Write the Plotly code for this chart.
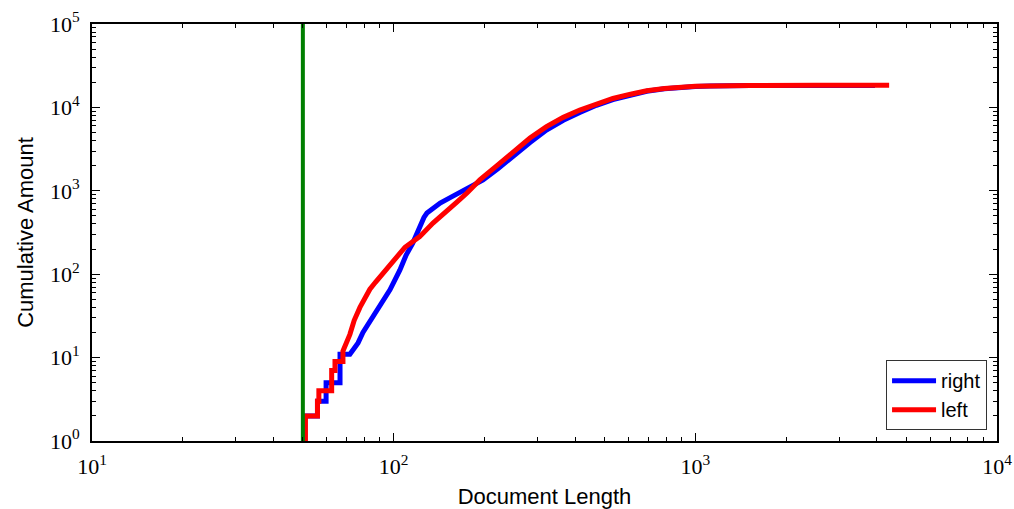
import plotly.graph_objects as go

# Cumulative document counts by length (log-log)
right_len = [50.4, 50.4, 55.9, 55.9, 59.7, 59.7, 66.4, 66.4, 71.6, 76.2, 79.1, 83.4,
             90.1, 97.2, 104.8, 110, 115.7, 120, 123.5, 126, 128.9, 134, 142.6, 155,
             167.8, 183, 197.9, 222, 249, 283, 321, 365, 414, 470, 533, 610, 690,
             790, 890, 1000, 1118, 1300, 1516, 2500, 3940]
right_cum = [1, 2, 2, 3, 3, 5, 5, 11, 11, 15, 20, 27,
             41, 65, 112, 170, 236, 330, 410, 480, 540, 610, 713, 840,
             975, 1150, 1350, 1850, 2630, 3800, 5350, 7000, 8700, 10600, 12400, 14200, 15600,
             16700, 17400, 17800, 18000, 18200, 18300, 18300, 18300]

left_len = [51.0, 51.0, 55.9, 55.9, 56.5, 56.5, 62.3, 62.3, 63.9, 63.9, 67.9, 67.9,
            71.6, 74, 77.3, 80, 83.4, 87, 90.1, 93.5, 97.2, 103, 109, 115, 122, 135,
            150, 162, 175, 193, 220, 249, 283, 321, 365, 414, 470, 533, 610, 690,
            790, 890, 1000, 1118, 1300, 1516, 2500, 4390]
left_cum = [1, 2, 2, 3, 3, 4, 4, 7, 7, 9, 9, 12,
            19, 28, 40, 52, 66, 80, 92, 108, 128, 165, 210, 245, 282, 410,
            560, 730, 940, 1350, 2000, 2940, 4300, 5880, 7600, 9300, 11100, 12800, 14400, 15800,
            16800, 17500, 17900, 18100, 18300, 18350, 18400, 18400]

cutoff_len = 50
y_span = [1, 1e5]

x_decades = [1, 2, 3, 4]
y_decades = [0, 1, 2, 3, 4, 5]

fig = go.Figure()
fig.add_trace(go.Scatter(x=right_len, y=right_cum, mode="lines", name="right",
                         line=dict(color="#0000ff", width=5)))
fig.add_trace(go.Scatter(x=left_len, y=left_cum, mode="lines", name="left",
                         line=dict(color="#ff0000", width=5)))
fig.add_trace(go.Scatter(x=[cutoff_len, cutoff_len], y=y_span, mode="lines",
                         showlegend=False, line=dict(color="#007f00", width=4)))

tick_font = dict(family="Liberation Serif, DejaVu Serif, serif", size=22, color="black")
title_font = dict(family="Liberation Sans, Arial, sans-serif", size=22, color="black")


def minor_vals(decades):
    return [m * 10 ** d for d in decades[:-1] for m in range(2, 10)]


axis_common = dict(
    type="log", showline=True, linewidth=2, linecolor="black", mirror="ticks",
    ticks="inside", ticklen=8, tickwidth=1.2, tickcolor="black",
    showgrid=False, zeroline=False, tickfont=tick_font, automargin=False,
)

fig.update_xaxes(
    **axis_common, range=[1, 4],
    tickvals=[10 ** d for d in x_decades],
    ticktext=[f"10<sup>{d}</sup>" for d in x_decades],
    ticklabelstandoff=5,
    minor=dict(tickvals=minor_vals(x_decades), ticks="inside", ticklen=4,
               tickwidth=1, tickcolor="black", showgrid=False),
    title=dict(text="Document Length", standoff=12, font=title_font),
)
fig.update_yaxes(
    **axis_common, range=[0, 5],
    tickvals=[10 ** d for d in y_decades],
    ticktext=[f"10<sup>{d}</sup>" for d in y_decades],
    ticklabelstandoff=6,
    minor=dict(tickvals=minor_vals(y_decades), ticks="inside", ticklen=4,
               tickwidth=1, tickcolor="black", showgrid=False),
    title=dict(text="Cumulative Amount", standoff=10, font=title_font),
)

fig.update_layout(
    width=1014, height=509,
    margin=dict(l=92, r=17, t=24, b=68),
    plot_bgcolor="white", paper_bgcolor="white",
    legend=dict(x=0.989, y=0.026, xanchor="right", yanchor="bottom",
                bgcolor="white", bordercolor="#333", borderwidth=1,
                font=dict(family="Liberation Sans, Arial, sans-serif", size=20, color="black"),
                itemwidth=44, tracegroupgap=2),
)

fig.write_html("out.html")
